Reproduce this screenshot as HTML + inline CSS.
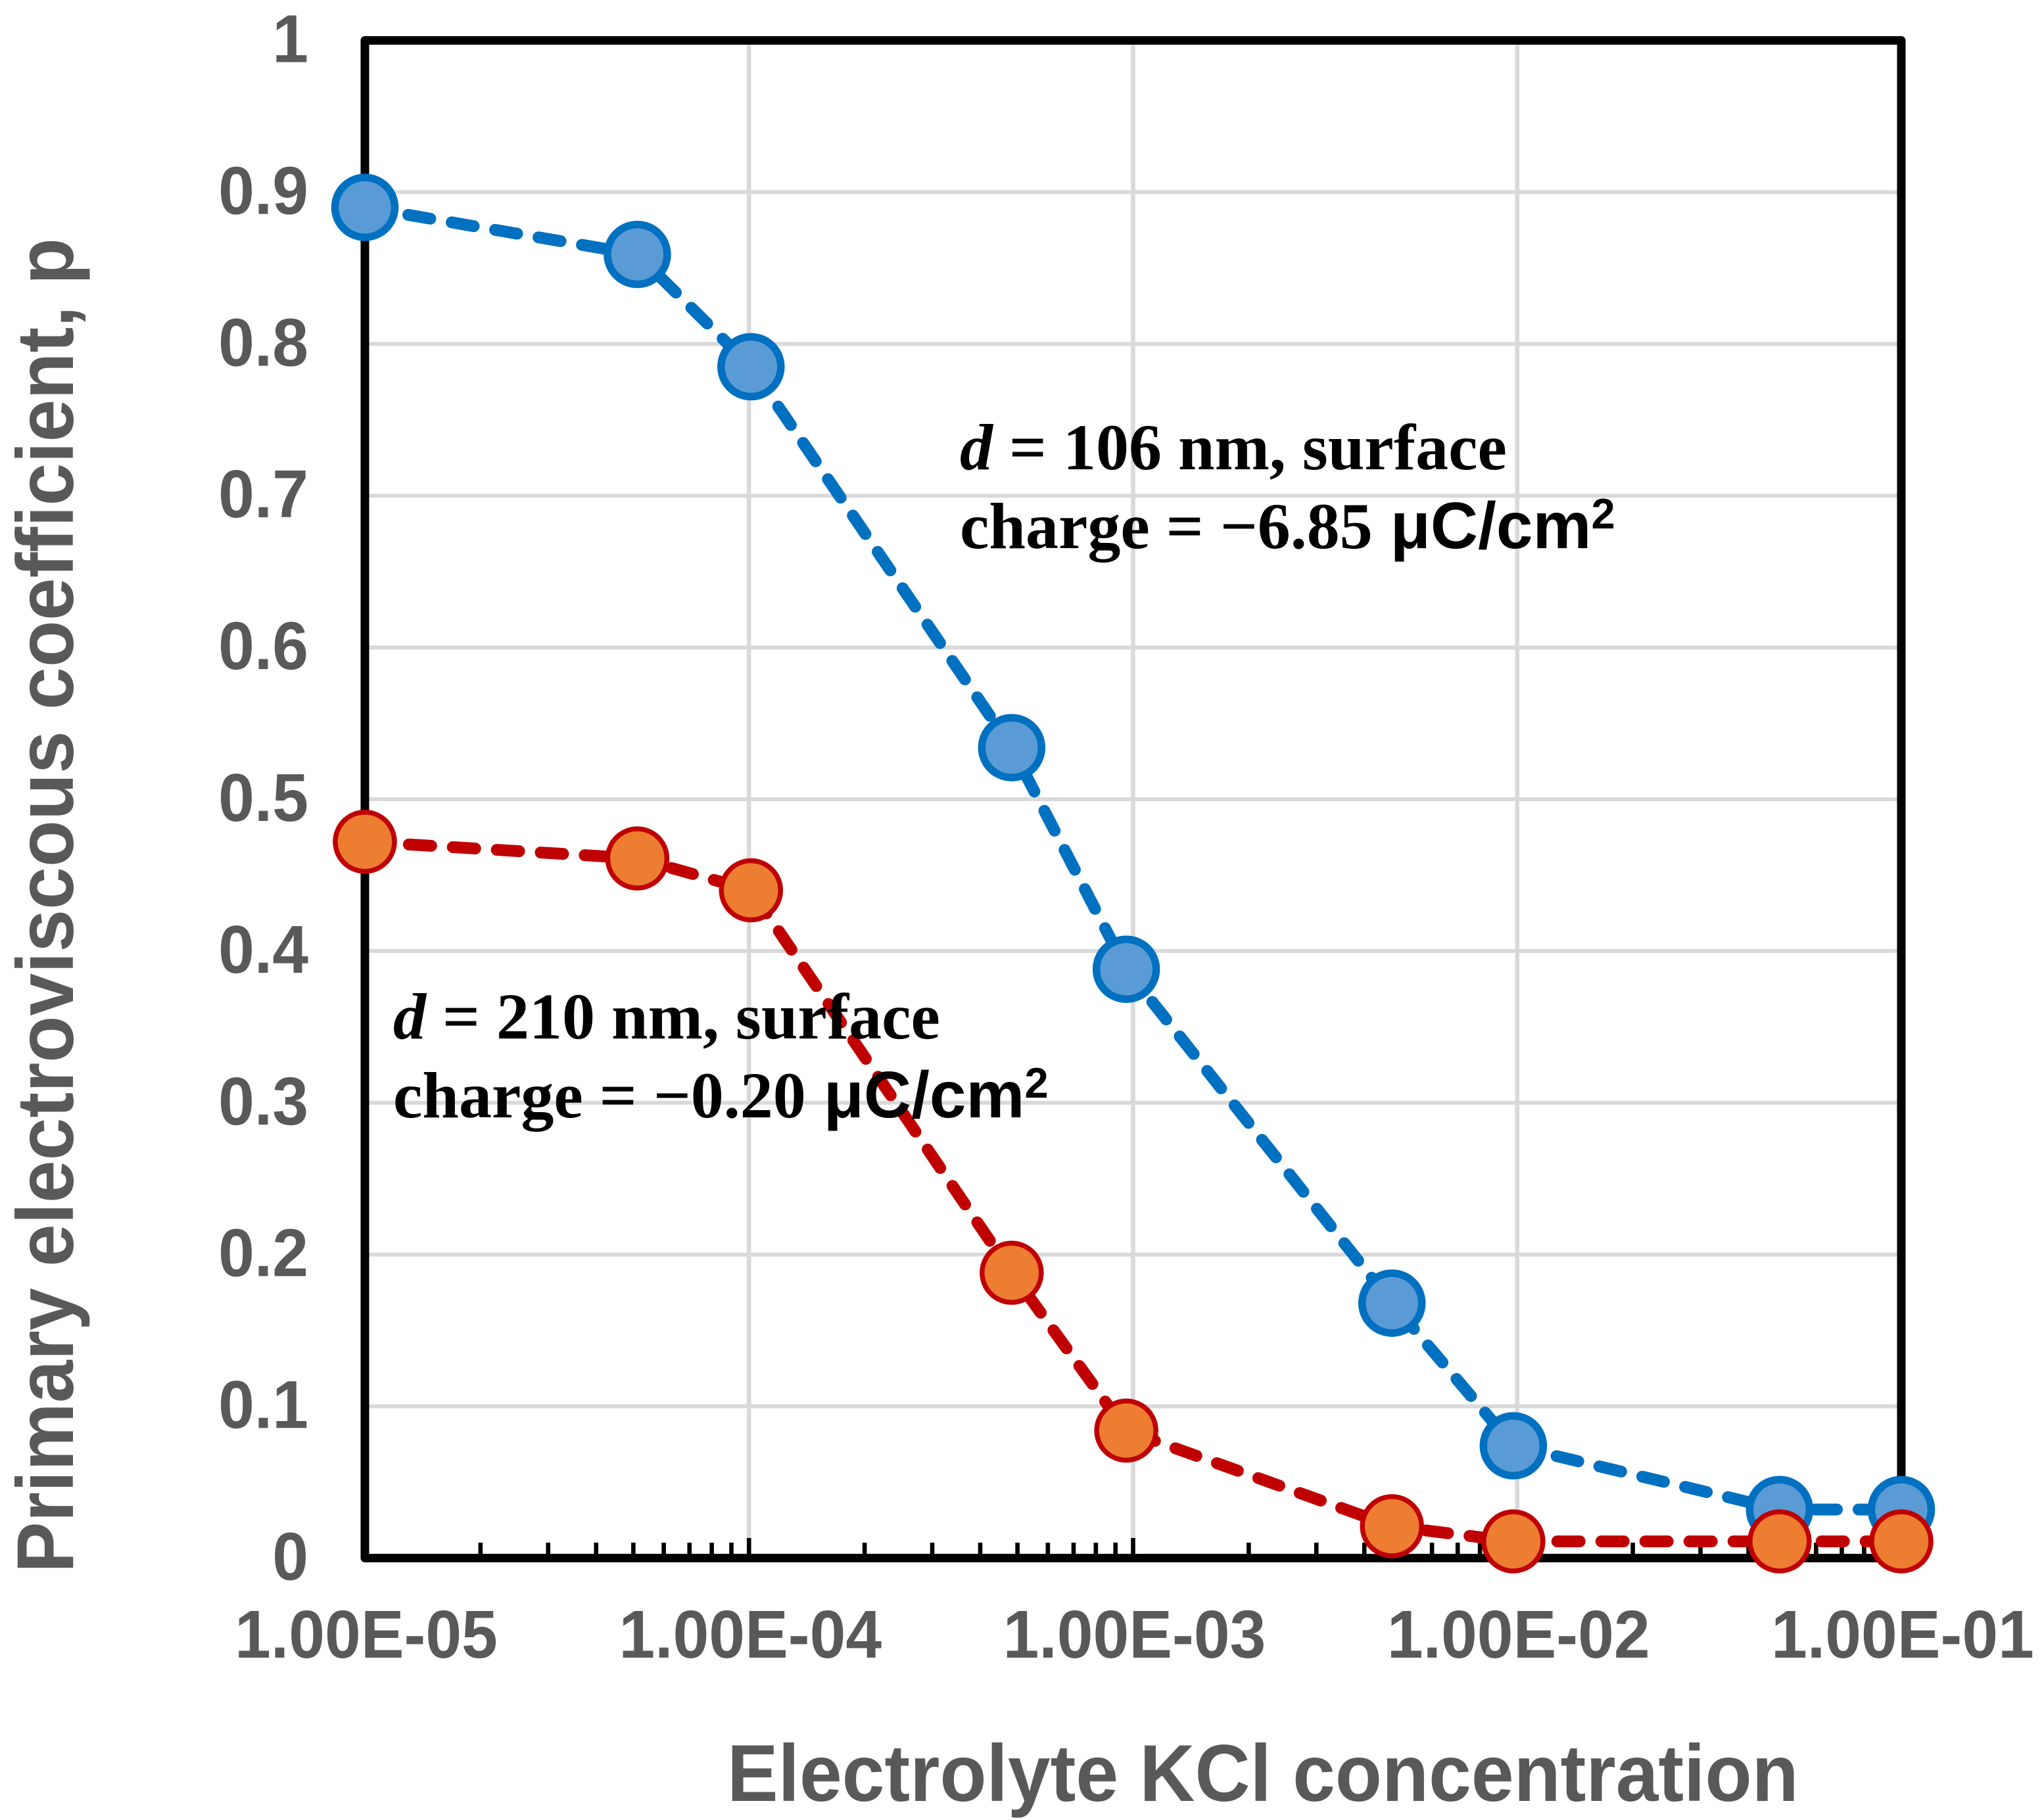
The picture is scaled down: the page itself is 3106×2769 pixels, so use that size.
<!DOCTYPE html>
<html lang="en">
<head>
<meta charset="utf-8">
<title>Primary electroviscous coefficient vs electrolyte concentration</title>
<style>
html,body{margin:0;padding:0;background:#fff;}
svg{display:block;}
.tick{font-family:"Liberation Sans",sans-serif;font-weight:700;font-size:98.5px;fill:#595959;}
.title{font-family:"Liberation Sans",sans-serif;font-weight:700;font-size:116.4px;fill:#595959;}
.note{font-family:"Liberation Serif",serif;font-weight:700;font-size:100px;fill:#000;}
.note .sans{font-family:"Liberation Sans",sans-serif;font-weight:700;}
.note .ital{font-style:italic;}
</style>
</head>
<body>
<svg id="chart" xmlns="http://www.w3.org/2000/svg" width="3106" height="2769" viewBox="0 0 3106 2769">
  <rect x="0" y="0" width="3106" height="2769" fill="#fff"/>
  <g id="grid"></g>
  <g id="ticks"></g>
  <rect x="555" y="61.5" width="2337" height="2309" fill="none" stroke="#000" stroke-width="13" stroke-linejoin="round"/>
  <g id="series"></g>
  <g id="labels"></g>
  <text class="title" x="0" y="0" transform="translate(111,2393) rotate(-90) scale(1,1.05)">Primary electroviscous coefficient, p</text>
  <text class="title" x="0" y="0" transform="translate(1106,2740) scale(1,1.05)">Electrolyte KCl concentration</text>
  <text class="note" x="1460" y="714"><tspan class="ital">d</tspan> = 106 nm, surface</text>
  <text class="note" x="1460" y="834">charge = −6.85 <tspan class="sans" dx="2">μC/cm</tspan><tspan class="sans" font-size="65" dy="-30">2</tspan></text>
  <text class="note" x="598" y="1580"><tspan class="ital">d</tspan> = 210 nm, surface</text>
  <text class="note" x="598" y="1700">charge = −0.20 <tspan class="sans" dx="2">μC/cm</tspan><tspan class="sans" font-size="65" dy="-30">2</tspan></text>
</svg>
<script>
var concentrations = [1e-5, 5.12e-5, 1.012e-4, 4.83e-4, 9.6e-4, 4.72e-3, 9.77e-3, 4.82e-2, 1e-1];
var blueValues = [0.890, 0.859, 0.785, 0.534, 0.388, 0.168, 0.074, 0.032, 0.032];
var orangeValues = [0.472, 0.461, 0.440, 0.188, 0.084, 0.021, 0.011, 0.011, 0.011];
var yTicks = [0, 0.1, 0.2, 0.3, 0.4, 0.5, 0.6, 0.7, 0.8, 0.9, 1];
var yTickLabels = ['0', '0.1', '0.2', '0.3', '0.4', '0.5', '0.6', '0.7', '0.8', '0.9', '1'];
var xDecades = [1e-5, 1e-4, 1e-3, 1e-2, 1e-1];
var xTickLabels = ['1.00E-05', '1.00E-04', '1.00E-03', '1.00E-02', '1.00E-01'];
var minorMultipliers = [2, 3, 4, 5, 6, 7, 8, 9];

var NS = 'http://www.w3.org/2000/svg';
var PLOT = { left: 555, right: 2892, top: 61.5, bottom: 2370.5 };

function xScale(v) {
  return PLOT.left + (Math.log10(v) + 5) / 4 * (PLOT.right - PLOT.left);
}
function yScale(v) {
  return PLOT.bottom - v * (PLOT.bottom - PLOT.top);
}
function make(tag, attrs, parent) {
  var el = document.createElementNS(NS, tag);
  for (var k in attrs) { el.setAttribute(k, attrs[k]); }
  parent.appendChild(el);
  return el;
}
function linePath(pts) {
  return pts.map(function (p, i) { return (i ? 'L' : 'M') + p[0] + ' ' + p[1]; }).join(' ');
}

var gridLayer = document.getElementById('grid');
var tickLayer = document.getElementById('ticks');
var labelLayer = document.getElementById('labels');
var seriesLayer = document.getElementById('series');

yTicks.forEach(function (t, i) {
  var y = yScale(t);
  if (t > 0 && t < 1) {
    var g = make('line', { x1: PLOT.left, x2: PLOT.right, y1: y, y2: y, stroke: '#D9D9D9', 'stroke-width': 6 }, gridLayer);
    
    
  }
  var lab = make('text', { class: 'tick', x: 0, y: 0, 'text-anchor': 'end', transform: 'translate(469,' + (y + 33) + ') scale(1,1.05)' }, labelLayer);
  lab.textContent = yTickLabels[i];
  
  
});

xDecades.forEach(function (t, i) {
  var x = xScale(t);
  if (i > 0 && i < xDecades.length - 1) {
    var g = make('line', { x1: x, x2: x, y1: PLOT.top, y2: PLOT.bottom, stroke: '#D9D9D9', 'stroke-width': 6.5 }, gridLayer);
    
    
    var major = make('line', { x1: x, x2: x, y1: 2340, y2: PLOT.bottom, stroke: '#000', 'stroke-width': 6.6 }, tickLayer);
    
    
  }
  if (i < xDecades.length - 1) {
    minorMultipliers.forEach(function (m) {
      var mx = xScale(t * m);
      var minor = make('line', { x1: mx, x2: mx, y1: 2347, y2: PLOT.bottom, stroke: '#000', 'stroke-width': 6.6 }, tickLayer);
      
      
    });
  }
  var lab = make('text', { class: 'tick', x: 0, y: 0, 'text-anchor': 'middle', transform: 'translate(' + (x + 2) + ',2522) scale(1,1.05)' }, labelLayer);
  lab.textContent = xTickLabels[i];
  
  
});

function drawSeries(values, lineColor, fillColor, radius, markerStroke, seriesName) {
  var group = make('g', {}, seriesLayer);
  
  
  var pts = values.map(function (v, i) { return [xScale(concentrations[i]), yScale(v)]; });
  var line = make('path', {
    d: linePath(pts), fill: 'none', stroke: lineColor, 'stroke-width': 18,
    'stroke-linecap': 'round', 'stroke-linejoin': 'round', 'stroke-dasharray': '34 33'
  }, group);
  
  
  pts.forEach(function (p) {
    var c = make('circle', { cx: p[0], cy: p[1], r: radius, fill: fillColor, stroke: lineColor, 'stroke-width': markerStroke }, group);
    
    
  });
}

drawSeries(blueValues, '#0070C0', '#5B9BD5', 45.5, 11.5, 'series-106nm');
drawSeries(orangeValues, '#C00000', '#ED7D31', 45, 7.5, 'series-210nm');
</script>
</body>
</html>
